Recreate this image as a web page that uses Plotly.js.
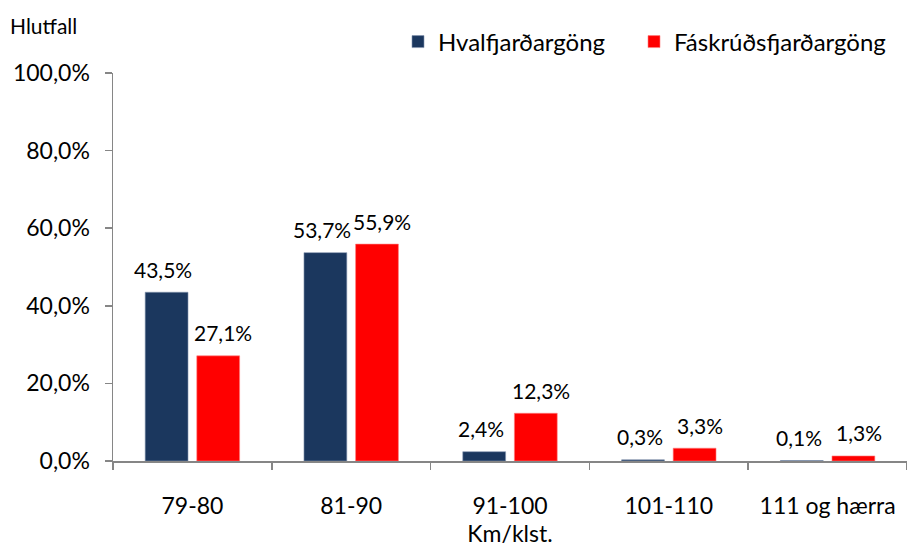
<!DOCTYPE html>
<html>
<head>
<meta charset="utf-8">
<script src="https://cdn.plot.ly/plotly-3.0.1.min.js"></script>
<style>
  html, body { margin: 0; padding: 0; background: #fff; }
  #chart { width: 907px; height: 549px; }
</style>
</head>
<body>
<div id="chart"></div>
<script>
// --- gögn ---
const flokkar = ['79-80', '81-90', '91-100', '101-110', '111 og hærra'];
const hvalfjordur = [43.5, 53.7, 2.4, 0.3, 0.1];
const faskrudsfjordur = [27.1, 55.9, 12.3, 3.3, 1.3];

const nafnA = 'Hvalfjarðargöng';
const nafnB = 'Fáskrúðsfjarðargöng';

const litA = '#1B375E';
const litB = '#FF0000';

const FONT = 'Lato, "Open Sans", sans-serif';

function prosenta(v) {
  return v.toFixed(1).replace('.', ',') + '%';
}

const traceA = {
  type: 'bar',
  name: nafnA,
  x: flokkar,
  y: hvalfjordur,
  legend: 'legend',
  marker: { color: litA, line: { color: '#8496B0', width: 0.6 } },
  hoverinfo: 'none'
};

const traceB = {
  type: 'bar',
  name: nafnB,
  x: flokkar,
  y: faskrudsfjordur,
  legend: 'legend2',
  marker: { color: litB, line: { color: '#FF8080', width: 0.6 } },
  hoverinfo: 'none'
};

// gildismerki ofan við súlurnar
const merki = [];
flokkar.forEach((f, i) => {
  merki.push({
    x: f, y: hvalfjordur[i], xref: 'x', yref: 'y',
    text: prosenta(hvalfjordur[i]), showarrow: false,
    xshift: -29, yshift: 23,
    font: { family: FONT, size: 21, color: '#000' }
  });
  merki.push({
    x: f, y: faskrudsfjordur[i], xref: 'x', yref: 'y',
    text: prosenta(faskrudsfjordur[i]), showarrow: false,
    xshift: 31, yshift: 23,
    font: { family: FONT, size: 21, color: '#000' }
  });
});

// ás-titill efst til vinstri
merki.push({
  text: 'Hlutfall', showarrow: false,
  xref: 'paper', yref: 'paper',
  x: (8 - 113) / 794, y: 1 + (73 - 25) / 388,
  xanchor: 'left', yanchor: 'middle',
  font: { family: FONT, size: 21, color: '#000' }
});

function legendAt(px) {
  return {
    orientation: 'h',
    xref: 'container', yref: 'container',
    x: px / 907, y: 1 - 42 / 549,
    xanchor: 'left', yanchor: 'middle',
    font: { family: FONT, size: 24, color: '#000' },
    itemwidth: 30,
    bgcolor: 'rgba(0,0,0,0)'
  };
}

const layout = {
  width: 907,
  height: 549,
  margin: { l: 113, r: 0, t: 73, b: 88 },
  paper_bgcolor: '#fff',
  plot_bgcolor: '#fff',
  font: { family: FONT, color: '#000' },
  separators: ',.',
  barmode: 'group',
  bargap: 0.35,
  bargroupgap: 0.17,
  showlegend: true,
  legend: legendAt(398),
  legend2: legendAt(634),
  xaxis: {
    type: 'category',
    showline: true, linecolor: '#868686', linewidth: 1.5,
    ticks: 'outside', tickson: 'boundaries', ticklen: 7, tickcolor: '#868686', tickwidth: 1.5,
    tickfont: { family: FONT, size: 23, color: '#000' },
    ticklabelstandoff: 24,
    showgrid: false, zeroline: false,
    title: { text: 'Km/klst.', font: { family: FONT, size: 23, color: '#000' }, standoff: 3 },
    fixedrange: true
  },
  yaxis: {
    range: [0, 100],
    dtick: 20,
    tickformat: '.1f',
    ticksuffix: '%',
    showline: true, linecolor: '#868686', linewidth: 1.5,
    ticks: 'outside', ticklen: 7, tickcolor: '#868686', tickwidth: 1.5,
    tickfont: { family: FONT, size: 23, color: '#000' },
    ticklabelstandoff: 10,
    showgrid: false, zeroline: false,
    fixedrange: true
  },
  annotations: merki
};

Plotly.newPlot('chart', [traceA, traceB], layout, { displayModeBar: false, staticPlot: true });
</script>
</body>
</html>
